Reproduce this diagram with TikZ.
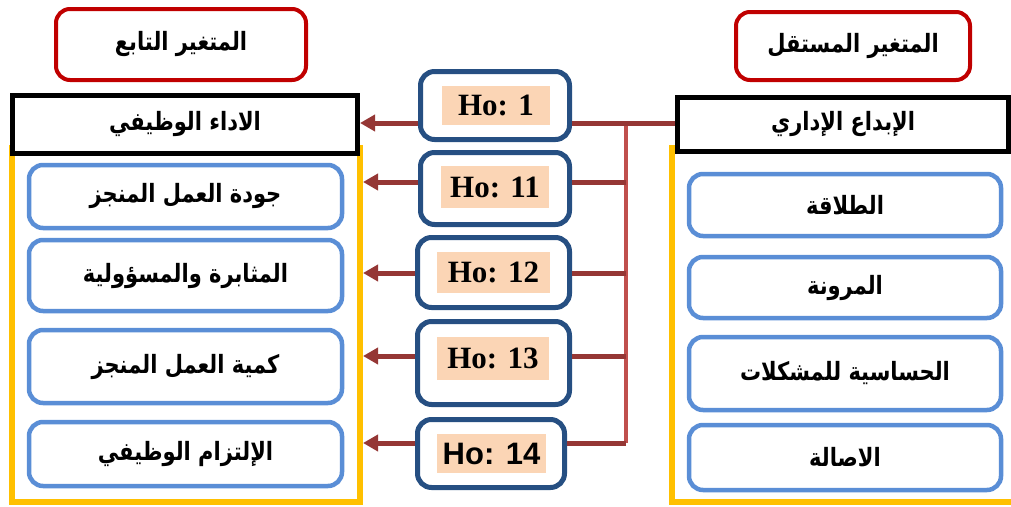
\documentclass[tikz,border=0pt]{standalone}
\usepackage{fontspec}
\usepackage{graphicx}
\usetikzlibrary{arrows.meta}
\TeXXeTstate=1
\newfontfamily\arabicfont[Script=Arabic]{DejaVu Sans}
\newfontfamily\hoserif{Liberation Serif}
\newfontfamily\hosans{Liberation Sans}

% right-to-left label, slightly taller than the font's natural shape
\newcommand\arlabel[1]{\scalebox{1}[1.2]{\beginR #1\endR}}

\definecolor{varred}{HTML}{C00000}
\definecolor{framegold}{HTML}{FFC000}
\definecolor{itemblue}{HTML}{5A8ED6}
\definecolor{hoblue}{HTML}{264F82}
\definecolor{peach}{HTML}{FBD5B5}
\definecolor{linkred}{HTML}{953735}
\definecolor{busred}{HTML}{C0504D}

\tikzset{
  artext/.style={font=\arabicfont\bfseries\fontsize{21}{25}\selectfont},
  varbox/.style={draw=varred, line width=4pt, rounded corners=14pt, fill=white, inner sep=0pt, artext},
  mainbox/.style={draw=black, line width=5pt, fill=white, inner sep=0pt, artext},
  itembox/.style={draw=itemblue, line width=4.5pt, rounded corners=14pt, fill=white, inner sep=0pt, artext},
  hobox/.style={draw=hoblue, line width=5pt, rounded corners=14pt, fill=white, inner sep=0pt},
  holabel/.style={fill=peach, inner sep=0pt, font=\hoserif\bfseries\fontsize{31}{34}\selectfont},
  goldframe/.style={draw=framegold, line width=6pt, inner sep=0pt},
  arr/.style={draw=linkred, line width=5pt, -{Triangle[length=15pt,width=16pt]}},
  link/.style={draw=linkred, line width=5pt},
  bus/.style={draw=busred, line width=4pt},
}

\begin{document}
\begin{tikzpicture}[x=1pt, y=-1pt]
\clip (0,0) rectangle (1011,506);
\useasboundingbox (0,0) rectangle (1011,506);

% yellow frames behind the variable lists
\node[goldframe, minimum width=348.5pt, minimum height=354pt] (depframe) at (185.75,325) {};
\node[goldframe, minimum width=370pt, minimum height=354pt] (indframe) at (856.5,325) {};

% column headings
\node[varbox, minimum width=250pt, minimum height=71pt] (dephead) at (181,44.5) {\arlabel{المتغير التابع}};
\node[varbox, minimum width=234pt, minimum height=68pt] (indhead) at (853,46) {\arlabel{المتغير المستقل}};

% main variables
\node[mainbox, minimum width=345pt, minimum height=58pt] (dep) at (185,124.5) {\arlabel{الاداء الوظيفي}};
\node[mainbox, minimum width=331pt, minimum height=54pt] (ind) at (843,124.5) {\arlabel{الإبداع الإداري}};

% dimensions of the dependent variable
\node[itembox, minimum width=313pt, minimum height=63pt] (d1) at (185.5,196.5) {\arlabel{جودة العمل المنجز}};
\node[itembox, minimum width=313pt, minimum height=71pt] (d2) at (185.5,275.5) {\arlabel{المثابرة والمسؤولية}};
\node[itembox, minimum width=313pt, minimum height=73pt] (d3) at (185.5,366.5) {\arlabel{كمية العمل المنجز}};
\node[itembox, minimum width=313pt, minimum height=64pt] (d4) at (185.5,454) {\arlabel{الإلتزام الوظيفي}};

% dimensions of the independent variable
\node[itembox, minimum width=312pt, minimum height=62pt] (i1) at (845,205) {\arlabel{الطلاقة}};
\node[itembox, minimum width=312pt, minimum height=61pt] (i2) at (845,287.5) {\arlabel{المرونة}};
\node[itembox, minimum width=312pt, minimum height=73pt] (i3) at (845,373.5) {\arlabel{الحساسية للمشكلات}};
\node[itembox, minimum width=312pt, minimum height=65pt] (i4) at (845,457.5) {\arlabel{الاصالة}};

% hypothesis boxes
\node[hobox, minimum width=149pt, minimum height=68pt] (h1) at (495,105.5) {};
\node[hobox, minimum width=149pt, minimum height=72pt] (h11) at (495,188.5) {};
\node[hobox, minimum width=152pt, minimum height=70pt] (h12) at (493.5,272.5) {};
\node[hobox, minimum width=152pt, minimum height=83pt] (h13) at (493.5,363) {};
\node[hobox, minimum width=147pt, minimum height=68pt] (h14) at (491,453.5) {};

\node[holabel, minimum width=108pt, minimum height=39pt] (l1) at (496,105.5) {Ho: 1};
\node[holabel, minimum width=108pt, minimum height=42pt] (l11) at (495,187) {Ho: 11};
\node[holabel, minimum width=113pt, minimum height=41pt] (l12) at (493.5,272.5) {Ho: 12};
\node[holabel, minimum width=112pt, minimum height=43pt] (l13) at (493,358.5) {Ho: 13};
\node[holabel, minimum width=109pt, minimum height=39pt, font=\hosans\bfseries\fontsize{31}{34}\selectfont] (l14) at (491.5,453.5) {Ho: 14};

% connector rows
\coordinate (r1) at (0,123);
\coordinate (r11) at (0,182);
\coordinate (r12) at (0,273);
\coordinate (r13) at (0,356);
\coordinate (r14) at (0,443);
\coordinate (busx) at (626,0);

% vertical bus from the independent variable
\draw[bus] (busx |- r1) -- (busx |- r14);

% links from the bus to each hypothesis
\draw[link] (ind.west |- r1) -- (h1.east |- r1);
\draw[link] (busx |- r11) -- (h11.east |- r11);
\draw[link] (busx |- r12) -- (h12.east |- r12);
\draw[link] (busx |- r13) -- (h13.east |- r13);
\draw[link] (busx |- r14) -- (h14.east |- r14);

% arrows to the dependent variable
\draw[arr] (h1.west |- r1) -- (dep.east |- r1);
\draw[arr] (h11.west |- r11) -- (depframe.east |- r11);
\draw[arr] (h12.west |- r12) -- (depframe.east |- r12);
\draw[arr] (h13.west |- r13) -- (depframe.east |- r13);
\draw[arr] (h14.west |- r14) -- (depframe.east |- r14);
\end{tikzpicture}
\end{document}
